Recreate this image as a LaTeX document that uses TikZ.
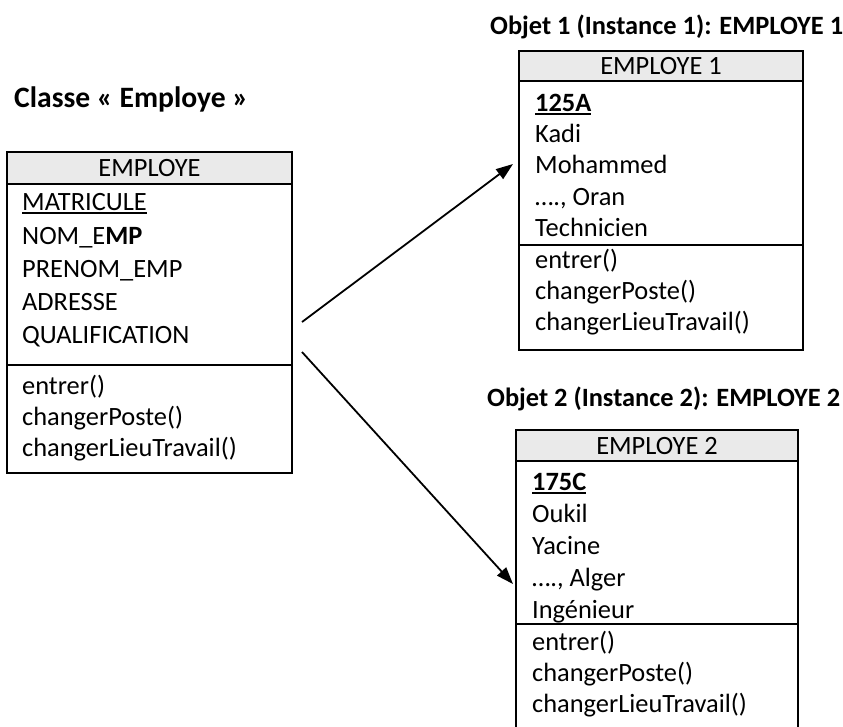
\documentclass[tikz,border=0pt]{standalone}
\usepackage{fontspec}
\setmainfont{Carlito}
\usetikzlibrary{arrows.meta}
\definecolor{hdr}{RGB}{234,234,234}
\newcommand{\myul}[1]{\setbox0\hbox{#1}\rlap{\rule[-3.2pt]{\wd0}{1.6pt}}\box0}
\begin{document}
\begin{tikzpicture}[x=1pt,y=-1pt,
  box/.style={draw=black, line width=2.3pt, rectangle, anchor=north west, inner sep=0pt, outer sep=0pt},
  hdrbox/.style={box, fill=hdr},
  txt/.style={anchor=base west, inner sep=0pt, font=\fontsize{26.4}{30}\selectfont},
  htxt/.style={anchor=base, inner sep=0pt, font=\fontsize{26.4}{30}\selectfont},
  ttl/.style={anchor=base west, inner sep=0pt, font=\fontsize{26.4}{30}\selectfont\bfseries},
  bigttl/.style={anchor=base west, inner sep=0pt, font=\fontsize{29.6}{33}\selectfont\bfseries},
  sepline/.style={line width=2.3pt},
  conn/.style={line width=1.8pt, -{Triangle[length=17pt,width=12pt]}}
]
\clip (0,0) rectangle (843,726);
\fill[white] (0,0) rectangle (843,726);

% ---------- Class box ----------
\node[bigttl] (tcls) at (14,107) {Classe « Employe »};
\node[box, minimum width=285pt, minimum height=321pt] (cls) at (7,152) {};
\node[hdrbox, minimum width=285pt, minimum height=32pt] (clsh) at (7,152) {};
\node[htxt] (clsn) at (149.5,176.5) {EMPLOYE};
\draw[sepline] (cls.west |- 0,365) -- (cls.east |- 0,365);
\node[txt] (c1) at (22,210.5) {\myul{MATRICULE}};
\node[txt] (c2) at (22,244) {NOM\_E\textbf{MP}};
\node[txt] (c3) at (22,277.5) {PRENOM\_EMP};
\node[txt] (c4) at (22,310.5) {ADRESSE};
\node[txt] (c5) at (22,343) {QUALIFICATION};
\node[txt] (c6) at (22,394) {entrer()};
\node[txt] (c7) at (22,425.5) {changerPoste()};
\node[txt] (c8) at (22,456) {changerLieuTravail()};

% ---------- Object 1 ----------
\node[ttl] (to1) at (490,34.5) {Objet 1 (Instance 1): EMPLOYE 1};
\node[box, minimum width=284pt, minimum height=299pt] (o1) at (519,51) {};
\node[hdrbox, minimum width=284pt, minimum height=30pt] (o1h) at (519,51) {};
\node[htxt] (o1n) at (661,74.5) {EMPLOYE 1};
\draw[sepline] (o1.west |- 0,245) -- (o1.east |- 0,245);
\node[txt] (a1) at (535,111.5) {\textbf{\myul{125A}}};
\node[txt] (a2) at (535,142) {Kadi};
\node[txt] (a3) at (535,173.5) {Mohammed};
\node[txt] (a4) at (535,205) {…., Oran};
\node[txt] (a5) at (535,236.5) {Technicien};
\node[txt] (a6) at (535,268) {entrer()};
\node[txt] (a7) at (535,299) {changerPoste()};
\node[txt] (a8) at (535,330) {changerLieuTravail()};

% ---------- Object 2 ----------
\node[ttl] (to2) at (487,406.5) {Objet 2 (Instance 2): EMPLOYE 2};
\node[box, minimum width=282pt, minimum height=330pt] (o2) at (516,430) {};
\node[hdrbox, minimum width=282pt, minimum height=31pt] (o2h) at (516,430) {};
\node[htxt] (o2n) at (657,454) {EMPLOYE 2};
\draw[sepline] (o2.west |- 0,624) -- (o2.east |- 0,624);
\node[txt] (b1) at (532,490.5) {\textbf{\myul{175C}}};
\node[txt] (b2) at (532,522.5) {Oukil};
\node[txt] (b3) at (532,554.5) {Yacine};
\node[txt] (b4) at (532,586.5) {…., Alger};
\node[txt] (b5) at (532,618) {Ingénieur};
\node[txt] (b6) at (532,650) {entrer()};
\node[txt] (b7) at (532,681) {changerPoste()};
\node[txt] (b8) at (532,712) {changerLieuTravail()};

% ---------- Connectors ----------
\coordinate (s1) at (302,322);
\coordinate (s2) at (302,352);
\coordinate (e1) at (513,164);
\coordinate (e2) at (513,584);
\draw[conn] (s1) -- (e1);
\draw[conn] (s2) -- (e2);
\end{tikzpicture}
\end{document}
